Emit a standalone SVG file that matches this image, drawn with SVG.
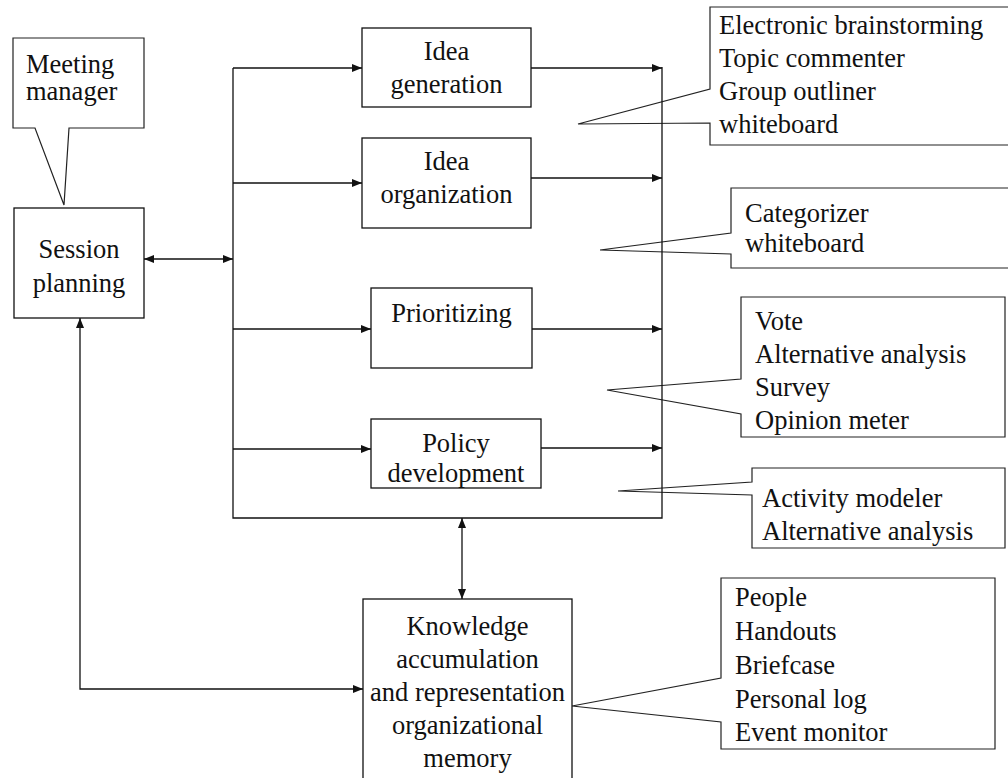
<svg xmlns="http://www.w3.org/2000/svg" width="1008" height="778" viewBox="0 0 1008 778">
  <style>
    .box { fill: #fff; stroke: #111; stroke-width: 1.3; }
    .callout { fill: none; stroke: #222; stroke-width: 1.2; stroke-linejoin: miter; }
    .wire { fill: none; stroke: #111; stroke-width: 1.3; }
    text { font-family: "Liberation Serif", "Times New Roman", serif; font-size: 26.5px; fill: #111; }
    .c { text-anchor: middle; }
  </style>
  <defs>
    <marker id="arrow" viewBox="0 0 10 8" refX="10" refY="4" markerWidth="10" markerHeight="8" markerUnits="userSpaceOnUse" orient="auto-start-reverse">
      <path d="M0,0 L10,4 L0,8 Z" fill="#111"/>
    </marker>
  </defs>
  <rect width="1008" height="778" fill="#fff"/>

  <!-- tool callouts -->
  <g id="meeting-manager">
    <path class="callout" d="M13,38 H144 V128 H69 L64,205 L35,128 H13 Z"/>
    <text x="26" y="73">Meeting</text>
    <text x="26" y="100">manager</text>
  </g>
  <g id="tools-generation">
    <path class="callout" d="M710,7 H1012 V145 H710 V123 L578,124 L710,89 Z"/>
    <text x="719" y="34">Electronic brainstorming</text>
    <text x="719" y="67">Topic commenter</text>
    <text x="719" y="100">Group outliner</text>
    <text x="719" y="133">whiteboard</text>
  </g>
  <g id="tools-organization">
    <path class="callout" d="M731,188 H1012 V268 H731 V254 L600,250 L731,233 Z"/>
    <text x="745" y="222">Categorizer</text>
    <text x="745" y="252">whiteboard</text>
  </g>
  <g id="tools-prioritizing">
    <path class="callout" d="M741,297 H1005 V437 H741 V414 L607,390 L741,379 Z"/>
    <text x="755" y="330">Vote</text>
    <text x="755" y="363">Alternative analysis</text>
    <text x="755" y="396">Survey</text>
    <text x="755" y="429">Opinion meter</text>
  </g>
  <g id="tools-policy">
    <path class="callout" d="M752,468 H1005 V548 H752 V495 L618,491 L752,482 Z"/>
    <text x="762" y="507">Activity modeler</text>
    <text x="762" y="540">Alternative analysis</text>
  </g>
  <g id="tools-knowledge">
    <path class="callout" d="M721,578 H995 V749 H721 V722 L572,706 L721,678 Z"/>
    <text x="735" y="606">People</text>
    <text x="735" y="640">Handouts</text>
    <text x="735" y="674">Briefcase</text>
    <text x="735" y="708">Personal log</text>
    <text x="735" y="741">Event monitor</text>
  </g>

  <!-- process boxes -->
  <g id="session-planning">
    <rect class="box" x="14" y="208" width="130" height="110"/>
    <text class="c" x="79" y="258">Session</text>
    <text class="c" x="79" y="292">planning</text>
  </g>
  <g id="idea-generation">
    <rect class="box" x="362" y="28" width="169" height="79"/>
    <text class="c" x="446.5" y="60">Idea</text>
    <text class="c" x="446.5" y="93">generation</text>
  </g>
  <g id="idea-organization">
    <rect class="box" x="362" y="138" width="169" height="90"/>
    <text class="c" x="446.5" y="170">Idea</text>
    <text class="c" x="446.5" y="203">organization</text>
  </g>
  <g id="prioritizing">
    <rect class="box" x="371" y="288" width="161" height="80"/>
    <text class="c" x="451.5" y="322">Prioritizing</text>
  </g>
  <g id="policy-development">
    <rect class="box" x="371" y="419" width="170" height="69"/>
    <text class="c" x="456" y="452">Policy</text>
    <text class="c" x="456" y="482">development</text>
  </g>
  <g id="knowledge">
    <rect class="box" x="363" y="599" width="209" height="200"/>
    <text class="c" x="467.5" y="635">Knowledge</text>
    <text class="c" x="467.5" y="668">accumulation</text>
    <text class="c" x="467.5" y="701">and representation</text>
    <text class="c" x="467.5" y="734">organizational</text>
    <text class="c" x="467.5" y="767">memory</text>
  </g>

  <!-- connectors -->
  <g id="connectors">
    <!-- frame around the four activities -->
    <path class="wire" d="M233,68 V518 H662 V67"/>
    <line class="wire" x1="144" y1="259" x2="233" y2="259" marker-start="url(#arrow)" marker-end="url(#arrow)"/>
    <line class="wire" x1="233" y1="68" x2="362" y2="68" marker-end="url(#arrow)"/>
    <line class="wire" x1="531" y1="68" x2="662" y2="68" marker-end="url(#arrow)"/>
    <line class="wire" x1="233" y1="183" x2="362" y2="183" marker-end="url(#arrow)"/>
    <line class="wire" x1="531" y1="178" x2="662" y2="178" marker-end="url(#arrow)"/>
    <line class="wire" x1="233" y1="329" x2="371" y2="329" marker-end="url(#arrow)"/>
    <line class="wire" x1="532" y1="329" x2="662" y2="329" marker-end="url(#arrow)"/>
    <line class="wire" x1="233" y1="449" x2="371" y2="449" marker-end="url(#arrow)"/>
    <line class="wire" x1="541" y1="448" x2="662" y2="448" marker-end="url(#arrow)"/>
    <line class="wire" x1="462" y1="518" x2="462" y2="599" marker-start="url(#arrow)" marker-end="url(#arrow)"/>
    <polyline class="wire" points="80,318 80,689 363,689" marker-start="url(#arrow)" marker-end="url(#arrow)"/>
  </g>
</svg>
